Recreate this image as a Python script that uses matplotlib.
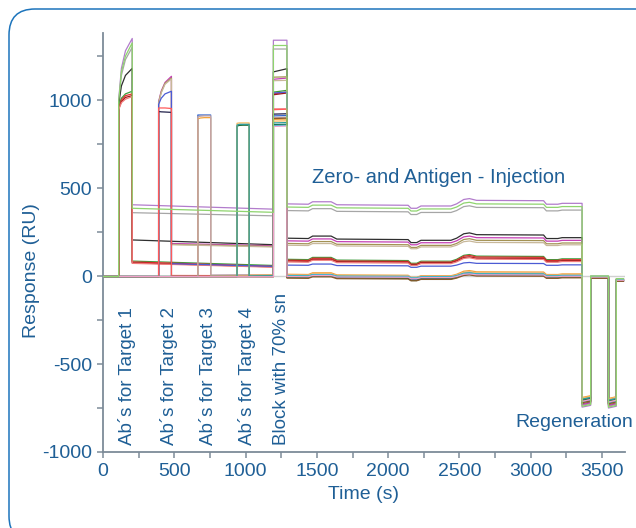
import matplotlib
import matplotlib.pyplot as plt
from matplotlib.patches import FancyBboxPatch
from matplotlib.transforms import IdentityTransform

# injection windows (s)
ab_inj = [(110, 205), (390, 480), (665, 755), (940, 1025)]
block_inj = (1195, 1290)
regen_inj = [(3360, 3420), (3545, 3600)]
t_end = 3650

# shared shape of the zero/antigen injection phase (RU, relative to post-block level)
ag_t = [1290, 1440, 1470, 1600, 1640, 2140, 2160, 2200, 2230, 2440, 2480, 2530, 2570, 2620, 3090, 3110, 3190, 3220, 3360]
ag_d = [0, -2, 12, 12, -5, -8, -25, -25, -12, -12, 0, 25, 30, 20, 18, -2, -2, 3, 3]

# one entry per flow cell / spot
colors = ['#b27ccc', '#8fd46e', '#a6a6a6', '#2e2e2e', '#3c9c3c', '#e53030', '#9e1a1a', '#f27a7a',
          '#c43fb4', '#a39254', '#c8b89a', '#4b5bd4', '#20204a', '#ff5a5a',
          '#3366cc', '#f2a23a', '#c4a4a4',
          '#1f6b3a', '#f7b860', '#2a9d9d', '#30b8d8', '#8b5a2b', '#f0a0c8']
ab_group = [0, 0, 0, 0, 0, 0, 0, 0,
            1, 1, 1, 1, 1, 1,
            2, 2, 2,
            3, 3, 3, -1, -1, -1]
# response during own antibody injection at 0, 20, 50, 100 % of the contact time
ab_peak = [[1000, 1180, 1280, 1350], [990, 1160, 1250, 1325], [985, 1140, 1230, 1300], [975, 1080, 1140, 1180],
           [965, 1010, 1035, 1050], [955, 1000, 1025, 1035], [950, 990, 1015, 1025], [945, 985, 1005, 1020],
           [990, 1050, 1100, 1135], [985, 1045, 1095, 1125], [980, 1040, 1090, 1120], [975, 1010, 1035, 1050],
           [935, 933, 932, 930], [955, 955, 955, 952],
           [915, 915, 915, 915], [893, 898, 900, 900], [905, 908, 910, 910],
           [852, 856, 857, 857], [868, 870, 870, 870], [858, 862, 862, 862],
           None, None, None]
# captured level right after injection and just before blocking
captured = [[405, 380], [385, 362], [360, 342], [205, 178], [85, 60], [80, 55], [75, 52], [72, 50],
            [185, 172], [180, 168], [178, 165], [70, 55], [0, 0], [3, 2],
            [3, 5], [2, 4], [5, 8],
            [2, 3], [5, 6], [0, 2], [-3, -3], [-5, -5], [-4, -4]]
block_lvl = [[1340, 1340], [1310, 1310], [1290, 1290], [1160, 1178], [1045, 1055], [1035, 1045], [1030, 1040], [950, 950],
             [1118, 1125], [1130, 1132], [1110, 1112], [1040, 1045], [920, 922], [945, 948],
             [910, 912], [890, 892], [900, 902],
             [860, 862], [880, 882], [870, 872], [855, 857], [895, 897], [850, 852]]
post_lvl = [410, 392, 372, 215, 95, 90, 85, 80,
            200, 185, 175, 62, -5, 0,
            -5, 10, 5,
            -8, 5, 0, 2, -12, -3]
ag_gain = [1.0, 0.9, 0.9, 1.0, 0.9, 0.9, 0.8, 0.8,
           0.9, 0.9, 0.8, 0.5, 0.6, 0.6,
           0.5, 0.7, 0.6,
           0.7, 0.6, 0.6, 0.5, 0.6, 0.5]
regen_lvl = [[-745, -750], [-740, -745], [-735, -740], [-725, -730], [-715, -720], [-710, -715], [-705, -712], [-700, -705],
             [-730, -735], [-722, -728], [-718, -724], [-712, -718], [-703, -708], [-708, -714],
             [-695, -700], [-690, -696], [-698, -704],
             [-706, -710], [-694, -698], [-700, -706], [-716, -722], [-720, -726], [-712, -716]]
tail_lvl = [[-5, -20], [0, -15], [-3, -18], [-8, -25], [-10, -28], [-12, -30], [-6, -22], [-4, -20],
            [-7, -24], [-9, -26], [-2, -16], [-11, -28], [-5, -22], [-13, -30],
            [-6, -23], [-3, -20], [-1, -18],
            [-10, -27], [-4, -21], [-8, -25], [-2, -19], [-12, -29], [-6, -24]]

frac = [0, 0.2, 0.5, 1.0]


def build_trace(i):
  t, y = [0], [-3]
  g = ab_group[i]
  if g >= 0:
    ts, te = ab_inj[g]
    t += [ts]
    y += [-3]
    for f, v in zip(frac, ab_peak[i]):
      t.append(ts + f * (te - ts))
      y.append(v)
    t += [te]
    y += [captured[i][0]]
  t += [block_inj[0]]
  y += [captured[i][1]]
  # block with supernatant
  t += [block_inj[0], block_inj[1], block_inj[1]]
  y += [block_lvl[i][0], block_lvl[i][1], post_lvl[i]]
  # zero- and antigen injections
  for tt, d in zip(ag_t, ag_d):
    t.append(tt)
    y.append(post_lvl[i] + ag_gain[i] * d)
  # regeneration
  (r1s, r1e), (r2s, r2e) = regen_inj
  t += [r1s, r1e, r1e, r2s, r2s, r2e, r2e, t_end]
  y += [regen_lvl[i][0], regen_lvl[i][0] + 10, tail_lvl[i][0], tail_lvl[i][0],
        regen_lvl[i][1], regen_lvl[i][1] + 10, tail_lvl[i][1], tail_lvl[i][1]]
  # vertical edge at the start of regeneration
  t.insert(len(t) - 8, r1s)
  y.insert(len(y) - 8, y[len(y) - 9])
  return t, y


plt.rcParams['font.family'] = ['Liberation Sans', 'DejaVu Sans']
plt.rcParams['axes.unicode_minus'] = False
txt = '#1f5f96'

fig = plt.figure(figsize=(6.36, 5.28), dpi=100)
ax = fig.add_axes([103 / 636, 1 - 452 / 528, 522 / 636, 419 / 528])

ax.axhline(0, color='#d0d0d0', linewidth=1, zorder=0)

order = [i for i in range(len(colors)) if i != 1] + [1]
for i in order:
  t, y = build_trace(i)
  ax.plot(t, y, color=colors[i], linewidth=0.9, zorder=3 if i == 1 else 2)

ax.set_xlim(0, 3661)
ax.set_ylim(-1000, 1381)
ax.set_xticks([0, 500, 1000, 1500, 2000, 2500, 3000, 3500])
ax.set_xticks([250, 750, 1250, 1750, 2250, 2750, 3250], minor=True)
ax.set_yticks([-1000, -500, 0, 500, 1000])
ax.set_yticks([-750, -250, 250, 750, 1250], minor=True)

for s in ['top', 'right']:
  ax.spines[s].set_visible(False)
for s in ['left', 'bottom']:
  ax.spines[s].set_color('#7d8b98')
  ax.spines[s].set_linewidth(1.3)

ax.tick_params(which='both', direction='out', length=4, width=1.1, color='#7d8b98',
               labelcolor=txt, labelsize=14)
ax.tick_params(axis='y', pad=4)
ax.tick_params(axis='x', pad=4)

ax.set_xlabel('Time (s)', color=txt, fontsize=14, labelpad=4)
ax.set_ylabel('Response (RU)', color=txt, fontsize=14)
ax.yaxis.set_label_coords(-0.121, 0.432)

ab_labels = ["Ab´s for Target 1", "Ab´s for Target 2", "Ab´s for Target 3", "Ab´s for Target 4", "Block with 70% sn"]
ab_label_x = [168, 463, 736, 1010, 1249]
for lx, lab in zip(ab_label_x, ab_labels):
  ax.text(lx, -960, lab, rotation=90, ha='center', va='bottom', color=txt, fontsize=13.5)

ax.text(1466, 562, 'Zero- and Antigen - Injection', ha='left', va='center', color=txt, fontsize=14.5)
ax.text(2890, -830, 'Regeneration', ha='left', va='center', color=txt, fontsize=14, clip_on=False)

# rounded frame around the whole figure
frame = FancyBboxPatch((9, -14), 660, 533, boxstyle='round,pad=0,rounding_size=26',
                       transform=IdentityTransform(), facecolor='none', edgecolor='#1c74bc', linewidth=1.1)
fig.add_artist(frame)

plt.savefig('out.png', dpi=100)
